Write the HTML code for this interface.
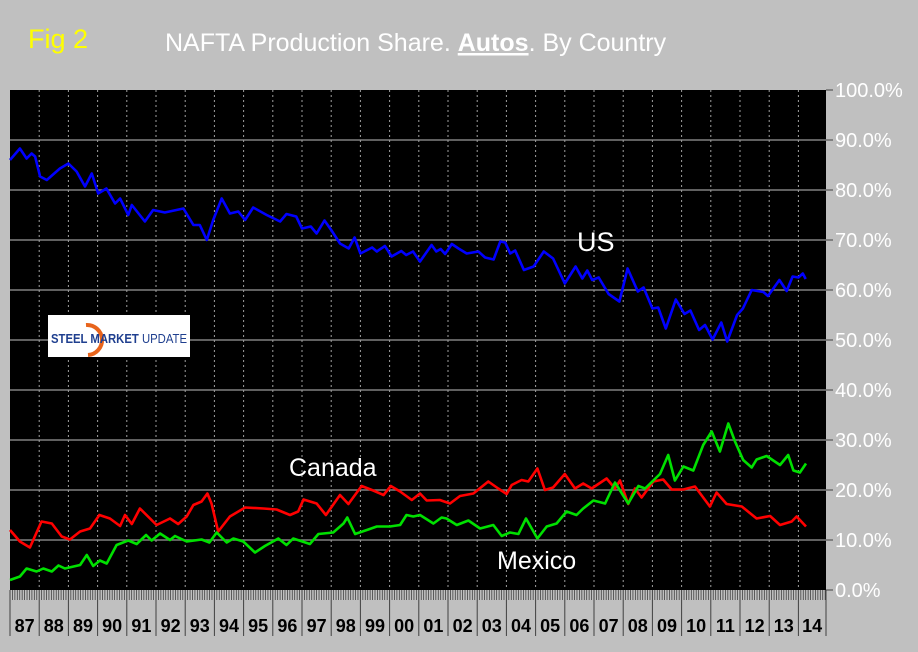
<!DOCTYPE html>
<html><head><meta charset="utf-8"><style>
html,body{margin:0;padding:0;background:#c0c0c0;}
svg{display:block;font-family:"Liberation Sans",sans-serif;}
</style></head><body>
<svg id="chart" width="918" height="652" viewBox="0 0 918 652" xmlns="http://www.w3.org/2000/svg">
<rect width="918" height="652" fill="#c0c0c0"/>
<text x="28" y="48" fill="#ffff00" font-size="27">Fig 2</text>
<text x="165" y="51" fill="#ffffff" font-size="25">NAFTA Production Share. <tspan font-weight="bold" text-decoration="underline">Autos</tspan>. By Country</text>
<rect x="10" y="90" width="816" height="500" fill="#000"/>
<g id="grid"></g>
<g id="axis"></g>
<g id="series"></g>
<g>
<rect x="48" y="315" width="142" height="42" fill="#fff"/>
<path d="M86 325 A15 15 0 1 1 88 355" fill="none" stroke="#e8641c" stroke-width="4"/>
<text x="51" y="343" font-size="13" font-weight="bold" fill="#1f3f8f" textLength="136" lengthAdjust="spacingAndGlyphs">STEEL MARKET <tspan font-weight="normal">UPDATE</tspan></text>
</g>
<text x="577" y="251" fill="#fff" font-size="27">US</text>
<text x="289" y="476" fill="#fff" font-size="25">Canada</text>
<text x="497" y="569" fill="#fff" font-size="25">Mexico</text>
</svg>
<script>
const yTicks=[0,10,20,30,40,50,60,70,80,90,100];
const yearLabels=["87","88","89","90","91","92","93","94","95","96","97","98","99","00","01","02","03","04","05","06","07","08","09","10","11","12","13","14"];
const usYears=[1987,1987.34,1987.57,1987.74,1987.86,1988.03,1988.26,1988.71,1989,1989.28,1989.57,1989.8,1990.02,1990.3,1990.6,1990.77,1991.05,1991.17,1991.62,1991.9,1992.3,1992.7,1992.94,1993.28,1993.5,1993.74,1993.96,1994.25,1994.53,1994.82,1995.05,1995.33,1995.79,1996.25,1996.47,1996.8,1997,1997.3,1997.5,1997.77,1998,1998.3,1998.6,1998.8,1999,1999.4,1999.56,1999.84,2000.07,2000.4,2000.57,2000.8,2001.04,2001.44,2001.6,2001.75,2001.9,2002.13,2002.36,2002.64,2003.04,2003.27,2003.56,2003.79,2003.96,2004.13,2004.3,2004.6,2004.93,2005.28,2005.6,2006,2006.37,2006.6,2006.77,2006.94,2007.16,2007.5,2007.87,2008.15,2008.5,2008.7,2009,2009.2,2009.46,2009.8,2010.1,2010.3,2010.6,2010.8,2011.06,2011.36,2011.56,2011.9,2012.1,2012.4,2012.8,2012.96,2013.35,2013.6,2013.8,2014,2014.15,2014.25];
const usShare=[86,88.3,86.3,87.3,86.7,82.7,82,84.3,85.3,83.7,80.7,83.3,79.3,80.3,77.3,78.3,75,77,73.7,76,75.5,76,76.3,73,73,70,74,78.3,75.3,75.7,74,76.5,75,73.7,75.2,74.7,72.3,72.7,71.3,73.9,72,69.3,68.3,70.5,67.3,68.5,67.7,68.8,66.7,67.8,67,67.7,65.7,69,67.7,68.2,67.2,69.2,68.3,67.3,67.7,66.5,66.1,69.7,69.5,67.3,67.9,64,64.7,67.7,66.3,61.3,64.7,62.3,63.9,62,62.5,59.2,57.7,64.3,59.7,60.5,56.3,56.5,52.3,58.1,55.2,55.9,52,53,50.1,53.5,49.7,55,56.3,60,59.6,58.8,62,59.8,62.7,62.5,63.3,62.2];
const caYears=[1987,1987.34,1987.68,1988.08,1988.43,1988.77,1989.05,1989.4,1989.74,1990.06,1990.42,1990.77,1990.94,1991.17,1991.45,1992.02,1992.48,1992.76,1993.05,1993.28,1993.56,1993.76,1993.9,1994.13,1994.53,1995.05,1995.68,1996.13,1996.59,1996.87,1997.05,1997.5,1997.82,1998.3,1998.59,1999.04,1999.44,1999.79,2000.04,2000.36,2000.76,2001.04,2001.27,2001.72,2002.07,2002.41,2002.87,2003.38,2003.72,2004.01,2004.18,2004.52,2004.75,2005.06,2005.32,2005.6,2006,2006.35,2006.63,2006.92,2007.43,2007.72,2007.89,2008.17,2008.4,2008.63,2009.03,2009.37,2009.66,2010.06,2010.46,2010.97,2011.2,2011.54,2012.06,2012.57,2013.03,2013.37,2013.77,2013.94,2014.26];
const caShare=[12,9.7,8.5,13.7,13.3,10.7,10.1,11.7,12.3,15,14.3,12.8,15,13.2,16.3,13,14.3,13.2,14.7,17,17.7,19.3,17.3,11.7,14.7,16.5,16.3,16.1,15,15.7,18.1,17.3,15,19,17.2,20.8,19.9,19,20.8,19.7,18,19.3,17.9,18,17.3,18.8,19.3,21.7,20.3,19.2,21,22,21.7,24.3,20,20.5,23.2,20.3,21.3,20.3,22.3,20.3,21.9,17.2,20.3,18.5,21.7,22.1,20.1,20.1,20.7,16.7,19.5,17.2,16.7,14.3,14.8,13,13.7,14.7,12.7];
const mxYears=[1987,1987.34,1987.57,1987.91,1988.14,1988.43,1988.66,1988.88,1989.4,1989.63,1989.85,1990.08,1990.31,1990.65,1991.05,1991.34,1991.66,1991.85,1992.14,1992.48,1992.65,1993.05,1993.56,1993.83,1994.08,1994.42,1994.65,1994.99,1995.39,1995.73,1996.19,1996.47,1996.7,1997.27,1997.56,1998.07,1998.42,1998.55,1998.82,1999.27,1999.56,2000.01,2000.36,2000.58,2000.81,2001.04,2001.5,2001.78,2001.95,2002.3,2002.7,2003.1,2003.55,2003.84,2004.12,2004.41,2004.67,2005.06,2005.38,2005.72,2006.06,2006.4,2006.63,2006.98,2007.38,2007.72,2008.17,2008.52,2008.75,2009.26,2009.54,2009.77,2010.06,2010.4,2010.74,2011.03,2011.31,2011.6,2011.83,2012.11,2012.4,2012.57,2012.91,2013.37,2013.65,2013.83,2014.05,2014.26];
const mxShare=[2,2.7,4.3,3.7,4.3,3.7,4.9,4.3,5,7,4.8,5.9,5.3,9,9.9,9.2,11,9.9,11.3,10,10.8,9.7,10.1,9.5,11.5,9.5,10.3,9.7,7.5,8.8,10.3,9,10.3,9.2,11.2,11.5,13.3,14.5,11.2,12.1,12.7,12.7,13,15,14.7,15,13.3,14.5,14.3,13,13.9,12.3,13,10.8,11.5,11.2,14.3,10.3,12.7,13.3,15.7,15,16.3,17.9,17.3,21.5,17.3,20.8,20.3,23.2,27,21.9,24.7,23.9,29,31.7,27.7,33.3,29.7,26,24.5,26.1,26.8,25,27,23.9,23.5,25.3];

const NS="http://www.w3.org/2000/svg";
const X0=10,X1=826,Y0=590,Y1=90,yearW=29.2;
function xScale(yr){return X0+(yr-1987)*yearW;}
function yScale(p){return Y0-(p/100)*(Y0-Y1);}
function mk(tag,attrs,parent){const e=document.createElementNS(NS,tag);for(const k in attrs)e.setAttribute(k,attrs[k]);parent.appendChild(e);return e;}
const grid=document.getElementById('grid'),axis=document.getElementById('axis'),ser=document.getElementById('series');
yTicks.forEach(v=>{
  const y=yScale(v);
  if(v>0&&v<100){const l=mk('line',{x1:X0,x2:X1,y1:y,y2:y,stroke:'#808080','stroke-width':1.5},grid);
  
  }
  mk('line',{x1:X1,x2:X1+7,y1:y,y2:y,stroke:'#404040','stroke-width':1},axis);
  const t=mk('text',{x:835,y:y+7,'font-size':20,fill:'#fff'},axis);
  t.textContent=v.toFixed(1)+'%';
  
  
});
yearLabels.forEach((lab,i)=>{
  const xa=xScale(1987+i);
  const xb=Math.min(xScale(1988+i),X1);
  if(i>0){const d=mk('line',{x1:xa,x2:xa,y1:Y1,y2:Y0,stroke:'#a0a0a0','stroke-width':1,'stroke-dasharray':'2,3'},grid);
  
  }
  mk('line',{x1:xa,x2:xa,y1:Y0,y2:636,stroke:'#404040','stroke-width':1},axis);
  for(let m=1;m<12;m++){const xm=xa+m*yearW/12;if(xm<X1)mk('line',{x1:xm,x2:xm,y1:Y0,y2:600,stroke:'#404040','stroke-width':0.8},axis);}
  const t=mk('text',{x:(xa+xb)/2,y:632,'font-size':18,'font-weight':'bold','text-anchor':'middle',fill:'#000'},axis);
  t.textContent=lab;
  
  
});
mk('line',{x1:X1,x2:X1,y1:Y0,y2:636,stroke:'#404040','stroke-width':1},axis);
function drawLine(xs,ys,color,name){
  const d=xs.map((x,i)=>(i?'L':'M')+xScale(x).toFixed(1)+' '+yScale(ys[i]).toFixed(1)).join(' ');
  const p=mk('path',{d:d,fill:'none',stroke:color,'stroke-width':2.6,'stroke-linejoin':'round'},ser);
  
  
}
drawLine(caYears,caShare,'#ff0000','canada-line');
drawLine(mxYears,mxShare,'#00e000','mexico-line');
drawLine(usYears,usShare,'#0000ff','us-line');
</script>
</body></html>
